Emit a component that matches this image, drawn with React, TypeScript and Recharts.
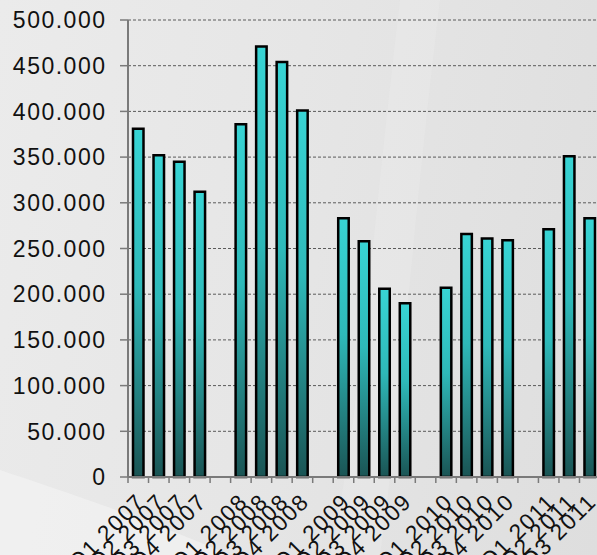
import React from "react";
import { BarChart, Bar, XAxis, YAxis, CartesianGrid } from "recharts";

const categories = [
  "Q1 2007", "Q2 2007", "Q3 2007", "Q4 2007", "",
  "Q1 2008", "Q2 2008", "Q3 2008", "Q4 2008", " ",
  "Q1 2009", "Q2 2009", "Q3 2009", "Q4 2009", "  ",
  "Q1 2010", "Q2 2010", "Q3 2010", "Q4 2010", "   ",
  "Q1 2011", "Q2 2011", "Q3 2011",
];

const values: (number | null)[] = [
  381000, 352000, 345000, 312000, null,
  386000, 471000, 454000, 401000, null,
  283000, 258000, 206000, 190000, null,
  207000, 266000, 261000, 259000, null,
  271000, 351000, 283000,
];

const yTicks = [0, 50000, 100000, 150000, 200000, 250000, 300000, 350000, 400000, 450000, 500000];

const data = categories.map((c, i) => ({ name: c, value: values[i] }));

const fmt = (v: number) => String(v).replace(/\B(?=(\d{3})+(?!\d))/g, ".");

const FONT = "'Liberation Sans', Arial, sans-serif";
const HALF = 10.26;
const AXIS_Y = 477;

const XTick = (props: any) => {
  const { x, y, payload, index } = props;
  const last = index === categories.length - 1;
  const tx = x + 8;
  const ty = y + 18;
  return (
    <g>
      <line x1={x - HALF} x2={x - HALF} y1={AXIS_Y} y2={AXIS_Y + 6} stroke="#7a7a7a" strokeWidth={1.5} />
      {last && <line x1={x + HALF} x2={x + HALF} y1={AXIS_Y} y2={AXIS_Y + 6} stroke="#7a7a7a" strokeWidth={1.5} />}
      {payload.value.trim() !== "" && (
        <text
          x={tx}
          y={ty}
          transform={`rotate(-45 ${tx} ${ty})`}
          textAnchor="end"
          fontFamily={FONT}
          fontSize={22.5}
          letterSpacing={1.5}
          fill="#111"
        >
          {payload.value}
        </text>
      )}
    </g>
  );
};

const YTick = (props: any) => {
  const { x, y, payload } = props;
  return (
    <text x={x + 1.5} y={y} dy="0.36em" textAnchor="end" fontFamily={FONT} fontSize={23} letterSpacing={1.5} fill="#111">
      {fmt(payload.value)}
    </text>
  );
};

export default function App() {
  return (
    <div
      style={{
        position: "absolute",
        left: 0,
        top: 0,
        width: 597,
        height: 555,
        overflow: "hidden",
        background: "linear-gradient(100deg, #ebebeb 0%, #e6e6e6 45%, #dedede 100%)",
      }}
    >
      <svg width={597} height={555} style={{ position: "absolute", left: 0, top: 0 }}>
        <path d="M0,470 C60,490 150,520 230,555 L0,555 Z" fill="#f2f2f2" opacity={0.7} />
        <path d="M330,555 C360,420 370,250 400,0 L440,0 C410,250 400,420 380,555 Z" fill="#eaeaea" opacity={0.5} />
      </svg>
      <BarChart
        width={610}
        height={555}
        data={data}
        margin={{ top: 20, right: 10, bottom: 0, left: 0 }}
        barSize={10.5}
        style={{ position: "absolute", left: 0, top: 0 }}
      >
        <defs>
          <linearGradient id="barGrad" x1="0" y1="0" x2="0" y2="1">
            <stop offset="0%" stopColor="#38d4d4" />
            <stop offset="45%" stopColor="#2eb9b9" />
            <stop offset="100%" stopColor="#1a5454" />
          </linearGradient>
        </defs>
        <CartesianGrid vertical={false} stroke="#5a5a5a" strokeDasharray="3 2" strokeWidth={1} />
        <XAxis
          dataKey="name"
          interval={0}
          height={78}
          tickSize={6}
          tickMargin={2}
          tickLine={false}
          axisLine={{ stroke: "#7a7a7a", strokeWidth: 2 }}
          tick={<XTick />}
        />
        <YAxis
          width={128}
          domain={[0, 500000]}
          ticks={yTicks}
          interval={0}
          tickSize={8}
          tickMargin={15}
          tickLine={{ stroke: "#7a7a7a", strokeWidth: 1.5 }}
          axisLine={{ stroke: "#7a7a7a", strokeWidth: 2 }}
          tick={<YTick />}
        />
        <Bar dataKey="value" fill="url(#barGrad)" stroke="#000" strokeWidth={2.5} isAnimationActive={false} />
      </BarChart>
    </div>
  );
}
